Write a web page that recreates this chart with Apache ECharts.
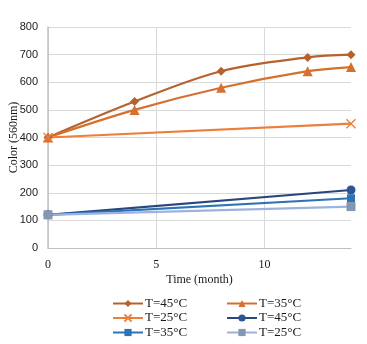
<!DOCTYPE html>
<html>
<head>
<meta charset="utf-8">
<script src="https://cdn.jsdelivr.net/npm/echarts@6/dist/echarts.min.js"></script>
<style>
  html, body { margin: 0; padding: 0; background: #fff; }
  #chart { width: 367px; height: 344px; }
</style>
</head>
<body>
<div id="chart"></div>
<script>
// Colour at 560 nm over storage time, at three temperatures, for two sample groups
var hotGroupMonths = [0, 4, 8, 12, 14];
var t45Upper = [400, 530, 640, 690, 700];
var t35Upper = [400, 500, 580, 640, 655];
var endMonths = [0, 14];
var t25Upper = [400, 450];
var t45Lower = [120, 210];
var t35Lower = [120, 180];
var t25Lower = [120, 150];
var seriesNames = ['T=45°C', 'T=35°C', 'T=25°C', 'T=45°C ', 'T=35°C ', 'T=25°C '];

function pairs(xs, ys) { return xs.map(function (x, i) { return [x, ys[i]]; }); }

var serif = '"Liberation Serif", "Times New Roman", serif';

function line(name, xs, ys, color, symbol, size, itemStyle, smooth) {
  return {
    name: name,
    type: 'line',
    data: pairs(xs, ys),
    smooth: smooth ? 0.35 : false,
    symbol: symbol,
    symbolSize: size,
    showSymbol: true,
    lineStyle: { color: color, width: 2.2 },
    itemStyle: itemStyle || { color: color },
    emphasis: { disabled: true }
  };
}

function legendColumn(left, names) {
  return {
    left: left, top: 297, orient: 'vertical', padding: 0,
    itemWidth: 30, itemHeight: 9, itemGap: 1.5,
    textStyle: { fontFamily: serif, fontSize: 13, color: '#1a1a1a', padding: [0, 0, 0, -3] },
    formatter: function (n) { return n.trim(); },
    data: names
  };
}

var chart = echarts.init(document.getElementById('chart'));
chart.setOption({
  animation: false,
  grid: { left: 48, right: 16, top: 27, bottom: 96, outerBoundsMode: 'none', containLabel: false },
  xAxis: {
    type: 'value', min: 0, max: 14, interval: 5,
    name: 'Time (month)', nameLocation: 'middle', nameGap: 26, nameMoveOverlap: false,
    nameTextStyle: { fontFamily: serif, fontSize: 12, color: '#1a1a1a' },
    axisLine: { show: true, lineStyle: { color: '#bfbfbf', width: 1 } },
    axisTick: { show: false },
    axisLabel: { fontFamily: serif, fontSize: 12, color: '#1a1a1a', showMaxLabel: false, margin: 11 },
    splitLine: { show: true, showMaxLine: false, lineStyle: { color: '#d9d9d9', width: 1 } }
  },
  yAxis: {
    type: 'value', min: 0, max: 800, interval: 100,
    name: 'Color (560nm)', nameLocation: 'middle', nameGap: 28, nameMoveOverlap: false,
    nameTextStyle: { fontFamily: serif, fontSize: 12, color: '#1a1a1a' },
    axisLine: { show: true, lineStyle: { color: '#bfbfbf', width: 1.5 } },
    axisTick: { show: false },
    axisLabel: { fontFamily: '"Liberation Sans", Arial, sans-serif', fontSize: 11, color: '#1a1a1a', margin: 10 },
    splitLine: { show: true, lineStyle: { color: '#d9d9d9', width: 1 } }
  },
  legend: [
    legendColumn(112, [seriesNames[0], seriesNames[2], seriesNames[4]]),
    legendColumn(226, [seriesNames[1], seriesNames[3], seriesNames[5]])
  ],
  series: [
    line(seriesNames[0], hotGroupMonths, t45Upper, '#B5622E', 'diamond', 9, null, true),
    line(seriesNames[1], hotGroupMonths, t35Upper, '#D5702F', 'triangle', 10, null, true),
    line(seriesNames[2], endMonths, t25Upper, '#EC7F3A', 'path://M0,0 L10,10 M10,0 L0,10', 9,
      { color: '#EC7F3A', borderColor: '#EC7F3A', borderWidth: 1.3 }, false),
    line(seriesNames[3], endMonths, t45Lower, '#27477D', 'circle', 9, { color: '#2F5597' }, false),
    line(seriesNames[4], endMonths, t35Lower, '#2E73B4', 'rect', 8, null, false),
    line(seriesNames[5], endMonths, t25Lower, '#9CB3E0', 'rect', 9, { color: '#8497B0' }, false)
  ]
});
</script>
</body>
</html>
